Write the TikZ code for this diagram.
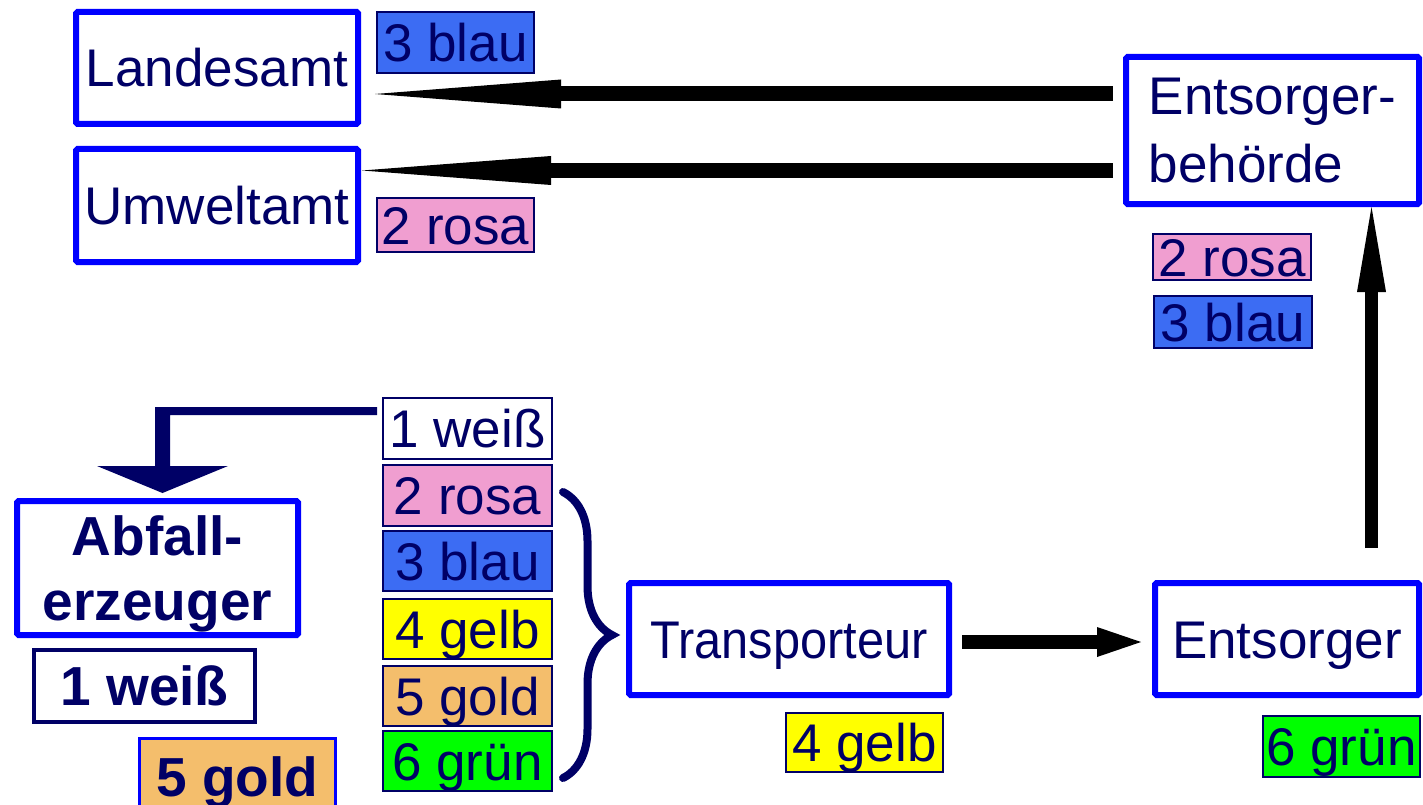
\documentclass[tikz,border=0pt]{standalone}
\usepackage{fontspec}
\setmainfont{Liberation Sans}
\usetikzlibrary{arrows.meta,decorations.pathreplacing,calc}
\definecolor{navy}{RGB}{0,0,102}
\definecolor{boxblue}{RGB}{0,0,255}
\definecolor{blau}{RGB}{60,108,243}
\definecolor{rosa}{RGB}{240,158,208}
\definecolor{gelb}{RGB}{255,255,0}
\definecolor{gold}{RGB}{244,190,108}
\definecolor{gruen}{RGB}{0,255,0}
\begin{document}
\begin{tikzpicture}[x=1pt,y=-1pt,
  every node/.style={text=navy, inner sep=0pt, font=\fontsize{53}{66}\selectfont},
  station/.style={draw=boxblue, line width=6pt, fill=white, rounded corners=1.5pt},
  oneline/.style={text height=38pt, text depth=0pt},
  tag/.style={draw=navy, line width=2pt, oneline},
  boldtag/.style={oneline, font=\bfseries\fontsize{55}{66}\selectfont},
  fat/.style={draw=black, line cap=butt}
]
\useasboundingbox (0,0) rectangle (1423,805);

% authorities
\node[station, oneline, minimum width=282pt, minimum height=112pt] (LA) at (217,68) {Landesamt};
\node[station, oneline, minimum width=282pt, minimum height=113pt] (UA) at (217,205.5) {Umweltamt};
\node[station, align=left, font=\fontsize{53}{68}\selectfont,
      minimum width=293pt, minimum height=147pt] (EB) at (1272.5,130.5) {Entsorger-\\behörde};

% chain of parties
\node[station, align=center, text depth=0pt, font=\bfseries\fontsize{55}{65}\selectfont,
      minimum width=281pt, minimum height=134pt] (AE) at (157.5,568) {Abfall-\\erzeuger};
\node[station, oneline, minimum width=320pt, minimum height=112pt] (TR) at (789,639) {\scalebox{0.92}[1]{Transporteur}};
\node[station, oneline, minimum width=264pt, minimum height=112pt] (EN) at (1287,639) {Entsorger};

% form copies at the authorities
\node[tag, fill=blau, minimum width=157pt, minimum height=61pt] (tb3) at (455.5,42.5) {3 blau};
\node[tag, fill=rosa, minimum width=157pt, minimum height=54pt] (tr2) at (455.5,225) {2 rosa};
\node[tag, fill=rosa, minimum width=158pt, minimum height=46pt] (rr2) at (1232,257) {2 rosa};
\node[tag, fill=blau, minimum width=158pt, minimum height=52pt] (rb3) at (1233,322) {3 blau};

% the full set of copies
\node[tag, fill=white, minimum width=169pt, minimum height=61pt] (cw1) at (467.5,428.5) {1 weiß};
\node[tag, fill=rosa,  minimum width=169pt, minimum height=61pt] (cr2) at (467.5,495.5) {2 rosa};
\node[tag, fill=blau,  minimum width=169pt, minimum height=60pt] (cb3) at (467.5,561) {3 blau};
\node[tag, fill=gelb,  minimum width=169pt, minimum height=60pt] (cy4) at (467.5,629) {4 gelb};
\node[tag, fill=gold,  minimum width=169pt, minimum height=60pt] (co5) at (467.5,696) {5 gold};
\node[tag, fill=gruen, minimum width=169pt, minimum height=60pt] (cg6) at (467.5,761) {6 grün};

% copies kept by each party
\node[tag, fill=gelb,  minimum width=157pt, minimum height=59pt] (ty4) at (864.5,742.5) {4 gelb};
\node[tag, fill=gruen, minimum width=157pt, minimum height=61pt] (tg6) at (1341.5,746.5) {6 grün};
\node[boldtag, draw=navy, line width=4pt, fill=white, minimum width=221pt, minimum height=72pt] (bw1) at (144.5,686) {1 weiß};
\node[boldtag, draw=boxblue, line width=3pt, fill=gold, minimum width=196pt, minimum height=77pt] (bo5) at (237.5,777) {5 gold};

% brace over copies 2 to 6
\draw[navy, line width=8pt, line cap=round, decorate, decoration={brace, amplitude=49pt}]
  ($(cr2.east)+(10,-3.5)$) -- ($(cg6.east)+(10,17)$);

% copy 1 goes back to the producer
\coordinate (src) at ($(cw1.west)+(-5,-17.5)$);
\coordinate (tip) at ($(AE.north)+(5,-5)$);
\fill[navy] ($(src)+(0,-4)$) -- ($(tip |- src)+(-7.5,-4)$) -- ($(tip)+(-7.5,-27)$)
  -- ($(tip)+(-65.5,-27)$) -- (tip) -- ($(tip)+(65.5,-27)$) -- ($(tip)+(7.5,-27)$)
  -- ($(tip |- src)+(7.5,4)$) -- ($(src)+(0,4)$) -- cycle;

% transport and reporting arrows
\draw[fat, line width=14pt, -{Triangle[length=44pt,width=30pt,line width=0pt]}]
  ($(TR.east)+(10,3)$) -- ($(EN.west)+(-11,3)$);
\coordinate (a4s) at ($(EN.north)+(84.5,-32)$);
\draw[fat, line width=13pt, -{Triangle[length=85pt,width=29pt,line width=0pt]}] (a4s) -- (a4s |- EB.south);
\coordinate (a1s) at ($(EB.west)+(-10,-36.5)$);
\draw[fat, line width=15pt, -{Triangle[length=186pt,width=29pt,line width=0pt]}] (a1s) -- ($(LA.east |- a1s)+(14,0)$);
\coordinate (a2s) at ($(EB.west)+(-10,40)$);
\draw[fat, line width=15pt, -{Triangle[length=189pt,width=29pt,line width=0pt]}] (a2s) -- ($(UA.east |- a2s)+(1,0)$);
\end{tikzpicture}
\end{document}
